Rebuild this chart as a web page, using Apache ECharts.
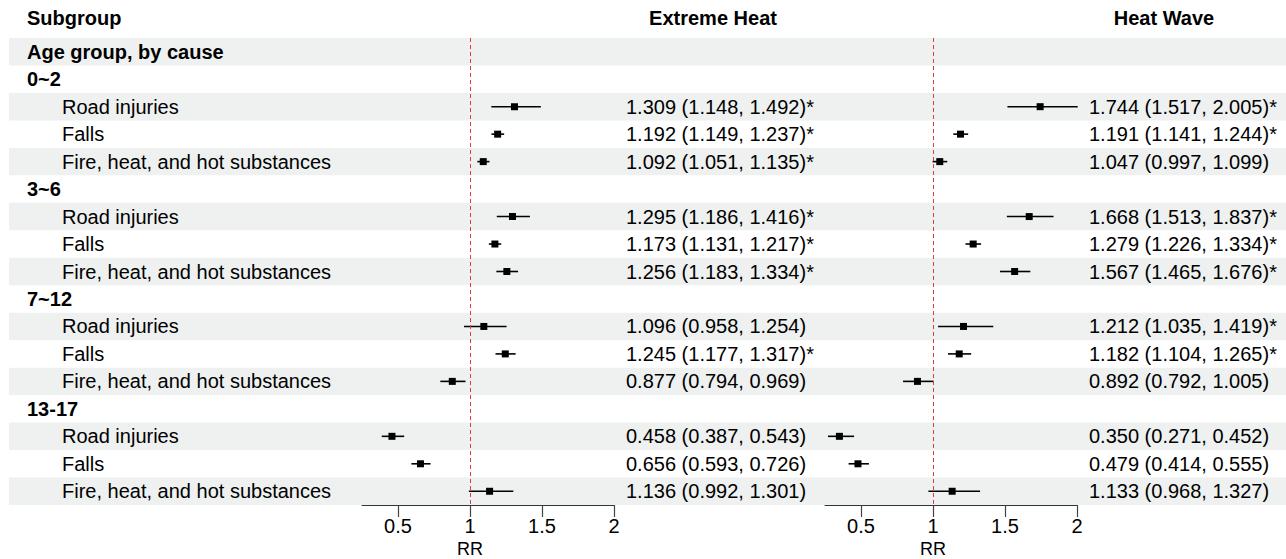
<!DOCTYPE html>
<html>
<head>
<meta charset="utf-8">
<script src="https://cdn.jsdelivr.net/npm/echarts@6/dist/echarts.min.js"></script>
<style>
  html, body { margin: 0; padding: 0; background: #fff; }
  #chart { width: 1286px; height: 559px; }
</style>
</head>
<body>
<div id="chart"></div>
<script>
// forest plot: RR by age group and cause, extreme heat vs heat wave
var rowLabels = ['Age group, by cause', '0~2', 'Road injuries', 'Falls', 'Fire, heat, and hot substances',
  '3~6', 'Road injuries', 'Falls', 'Fire, heat, and hot substances',
  '7~12', 'Road injuries', 'Falls', 'Fire, heat, and hot substances',
  '13-17', 'Road injuries', 'Falls', 'Fire, heat, and hot substances'];
var rowBold = [1, 1, 0, 0, 0, 1, 0, 0, 0, 1, 0, 0, 0, 1, 0, 0, 0];
var causeRows = [2, 3, 4, 6, 7, 8, 10, 11, 12, 14, 15, 16];

// Extreme Heat
var ehEst = [1.309, 1.192, 1.092, 1.295, 1.173, 1.256, 1.096, 1.245, 0.877, 0.458, 0.656, 1.136];
var ehLo  = [1.148, 1.149, 1.051, 1.186, 1.131, 1.183, 0.958, 1.177, 0.794, 0.387, 0.593, 0.992];
var ehHi  = [1.492, 1.237, 1.135, 1.416, 1.217, 1.334, 1.254, 1.317, 0.969, 0.543, 0.726, 1.301];
var ehStar = [1, 1, 1, 1, 1, 1, 0, 1, 0, 0, 0, 0];

// Heat Wave
var hwEst = [1.744, 1.191, 1.047, 1.668, 1.279, 1.567, 1.212, 1.182, 0.892, 0.350, 0.479, 1.133];
var hwLo  = [1.517, 1.141, 0.997, 1.513, 1.226, 1.465, 1.035, 1.104, 0.792, 0.271, 0.414, 0.968];
var hwHi  = [2.005, 1.244, 1.099, 1.837, 1.334, 1.676, 1.419, 1.265, 1.005, 0.452, 0.555, 1.327];
var hwStar = [1, 1, 0, 1, 1, 1, 1, 1, 0, 0, 0, 0];

var rrTicks = [0.5, 1, 1.5, 2];

var font = 'Liberation Sans, Arial, Helvetica, sans-serif';
var ink = '#000';
var band = '#eef1f0';

function buildData(est, lo, hi) {
  return est.map(function(v, i) { return [v, causeRows[i], lo[i], hi[i]]; });
}
function buildText(est, lo, hi, star) {
  var out = rowLabels.map(function() { return ''; });
  est.forEach(function(v, i) {
    out[causeRows[i]] = v.toFixed(3) + ' (' + lo[i].toFixed(3) + ', ' + hi[i].toFixed(3) + ')' + (star[i] ? '*' : '');
  });
  return out;
}

var gridTop = 38, gridHeight = 467;

function rrAxis(gridIndex) {
  return {
    type: 'value', gridIndex: gridIndex, min: 0.25, max: 2,
    axisLine: { show: true, lineStyle: { color: '#333', width: 1 } },
    axisTick: { show: true, length: 12, customValues: rrTicks, lineStyle: { color: '#444', width: 1.2 } },
    axisLabel: { customValues: rrTicks, color: ink, fontSize: 20, lineHeight: 20, fontFamily: font, margin: 11 },
    splitLine: { show: false }
  };
}
function textAxis(gridIndex, labels) {
  return {
    type: 'category', gridIndex: gridIndex, data: labels, inverse: true, position: 'right',
    axisLine: { show: false }, axisTick: { show: false }, splitLine: { show: false },
    axisLabel: { interval: 0, align: 'left', margin: 12, color: ink, fontSize: 20, fontFamily: font }
  };
}
function renderCI(params, api) {
  var y = api.value(1);
  var p0 = api.coord([api.value(2), y]);
  var p1 = api.coord([api.value(3), y]);
  var pc = api.coord([api.value(0), y]);
  return {
    type: 'group',
    children: [
      { type: 'line', shape: { x1: p0[0], y1: p0[1], x2: p1[0], y2: p1[1] }, style: { stroke: ink, lineWidth: 1.6 } },
      { type: 'rect', shape: { x: pc[0] - 3.5, y: pc[1] - 3.5, width: 7, height: 7 }, style: { fill: ink } }
    ]
  };
}
function ciSeries(axisIndex, data) {
  return {
    type: 'custom', xAxisIndex: axisIndex, yAxisIndex: axisIndex, data: data,
    renderItem: renderCI, clip: false, silent: true,
    encode: { x: [0, 2, 3], y: 1 },
    markLine: {
      silent: true, symbol: 'none', label: { show: false },
      lineStyle: { color: '#e33b3b', type: [4, 3], width: 1 },
      data: [{ xAxis: 1 }]
    }
  };
}

var chart = echarts.init(document.getElementById('chart'), null, { renderer: 'svg' });
chart.setOption({
  animation: false,
  textStyle: { fontFamily: font },
  grid: [
    { left: 9, right: 0, top: gridTop, height: gridHeight },
    { left: 362, width: 252, top: gridTop, height: gridHeight },
    { left: 825, width: 252, top: gridTop, height: gridHeight }
  ],
  xAxis: [
    { type: 'value', gridIndex: 0, show: false, min: 0, max: 1 },
    rrAxis(1),
    rrAxis(2)
  ],
  yAxis: [
    {
      type: 'category', gridIndex: 0, data: rowLabels, inverse: true,
      axisLine: { show: false }, axisTick: { show: false },
      splitArea: { show: true, areaStyle: { color: [band, 'rgba(255,255,255,0)'] } },
      axisLabel: {
        inside: true, interval: 0, margin: 18, align: 'left', color: ink, fontSize: 20,
        formatter: function(v, i) { return rowBold[i] ? '{b|' + v + '}' : '{n|' + v + '}'; },
        rich: {
          b: { fontWeight: 'bold', fontSize: 20, color: ink, fontFamily: font },
          n: { fontSize: 20, color: ink, fontFamily: font, padding: [0, 0, 0, 35] }
        }
      }
    },
    textAxis(1, buildText(ehEst, ehLo, ehHi, ehStar)),
    textAxis(2, buildText(hwEst, hwLo, hwHi, hwStar))
  ],
  series: [
    ciSeries(1, buildData(ehEst, ehLo, ehHi)),
    ciSeries(2, buildData(hwEst, hwLo, hwHi))
  ],
  graphic: [
    { type: 'text', x: 27, y: 18, style: { text: 'Subgroup', font: 'bold 20px ' + font, fill: ink, textVerticalAlign: 'middle' } },
    { type: 'text', x: 713, y: 18, style: { text: 'Extreme Heat', font: 'bold 20px ' + font, fill: ink, textAlign: 'center', textVerticalAlign: 'middle' } },
    { type: 'text', x: 1164, y: 18, style: { text: 'Heat Wave', font: 'bold 20px ' + font, fill: ink, textAlign: 'center', textVerticalAlign: 'middle' } },
    { type: 'text', x: 470, y: 549, style: { text: 'RR', font: '18px ' + font, fill: ink, textAlign: 'center', textVerticalAlign: 'middle' } },
    { type: 'text', x: 933, y: 549, style: { text: 'RR', font: '18px ' + font, fill: ink, textAlign: 'center', textVerticalAlign: 'middle' } }
  ]
});
window.addEventListener('resize', function() { chart.resize(); });
</script>
</body>
</html>
